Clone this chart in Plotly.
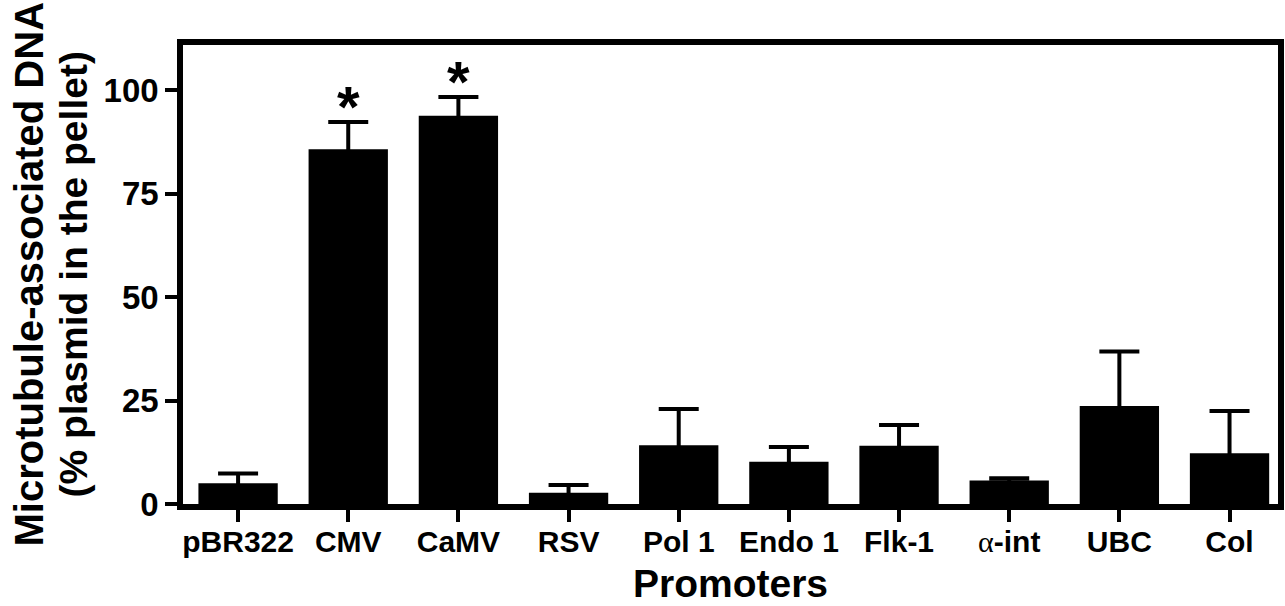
import plotly.graph_objects as go

categories = ["pBR322", "CMV", "CaMV", "RSV", "Pol 1", "Endo 1", "Flk-1",
              "α-int", "UBC", "Col"]
tick_labels = ["pBR322", "CMV", "CaMV", "RSV", "Pol 1", "Endo 1", "Flk-1",
               "<span style=\"font-family:Liberation Serif;font-weight:normal\">α</span>-int",
               "UBC", "Col"]
means = [5.0, 85.8, 93.9, 2.7, 14.2, 10.2, 14.1, 5.7, 23.7, 12.3]
errors = [2.4, 6.6, 4.5, 1.9, 8.8, 3.6, 5.0, 0.5, 13.2, 10.2]
significant = [False, True, True, False, False, False, False, False, False, False]
y_ticks = [0, 25, 50, 75, 100]

FONT = "Liberation Sans, Arial, sans-serif"
x_idx = list(range(len(categories)))

fig = go.Figure()
fig.add_trace(go.Bar(
    x=x_idx, y=means, width=0.72,
    marker=dict(color="black", line=dict(width=0)),
    error_y=dict(type="data", array=errors, symmetric=True,
                 color="black", thickness=4, width=20),
    hoverinfo="x+y",
))

annotations = []
for i, (m, e, s) in enumerate(zip(means, errors, significant)):
    if s:
        annotations.append(dict(
            x=i, y=m + e, xref="x", yref="y", text="<b>*</b>", showarrow=False,
            yanchor="bottom", yshift=-19,
            font=dict(family=FONT, size=58, color="black")))

annotations += [
    dict(x=0, y=0.5, xref="paper", yref="paper", text="<b>Microtubule-associated DNA</b>",
         textangle=-90, showarrow=False, xanchor="center", yanchor="middle", xshift=-155,
         font=dict(family=FONT, size=40, color="black")),
    dict(x=0, y=0.5, xref="paper", yref="paper", text="<b>(% plasmid in the pellet)</b>",
         textangle=-90, showarrow=False, xanchor="center", yanchor="middle", xshift=-110,
         font=dict(family=FONT, size=39, color="black")),
    dict(x=0.5, y=0, xref="paper", yref="paper", text="<b>Promoters</b>",
         showarrow=False, xanchor="center", yanchor="top", yshift=-56,
         font=dict(family=FONT, size=39, color="black")),
]

fig.update_layout(
    width=1285, height=606,
    margin=dict(l=183, r=7, t=45, b=102, pad=0),
    paper_bgcolor="white", plot_bgcolor="white",
    showlegend=False,
    annotations=annotations,
    font=dict(family=FONT, color="black"),
)
fig.update_xaxes(
    range=[-0.5, 9.44], tickmode="array", tickvals=x_idx, ticktext=tick_labels,
    showline=True, linecolor="black", linewidth=5.5, mirror=True,
    ticks="outside", ticklen=12, tickwidth=4, tickcolor="black",
    showgrid=False, zeroline=False, automargin=False, ticklabelstandoff=-6,
    tickfont=dict(family=FONT, size=30, color="black", weight="bold"),
)
fig.update_yaxes(
    range=[0, 111], tickmode="array", tickvals=y_ticks,
    showline=True, linecolor="black", linewidth=5.5, mirror=True,
    ticks="outside", ticklen=12, tickwidth=4, tickcolor="black",
    showgrid=False, zeroline=False, automargin=False,
    tickfont=dict(family=FONT, size=33, color="black", weight="bold"),
)

fig.write_html("out.html", config={"displayModeBar": False},
               post_script="document.body.style.margin='0';document.body.style.overflow='hidden';")
